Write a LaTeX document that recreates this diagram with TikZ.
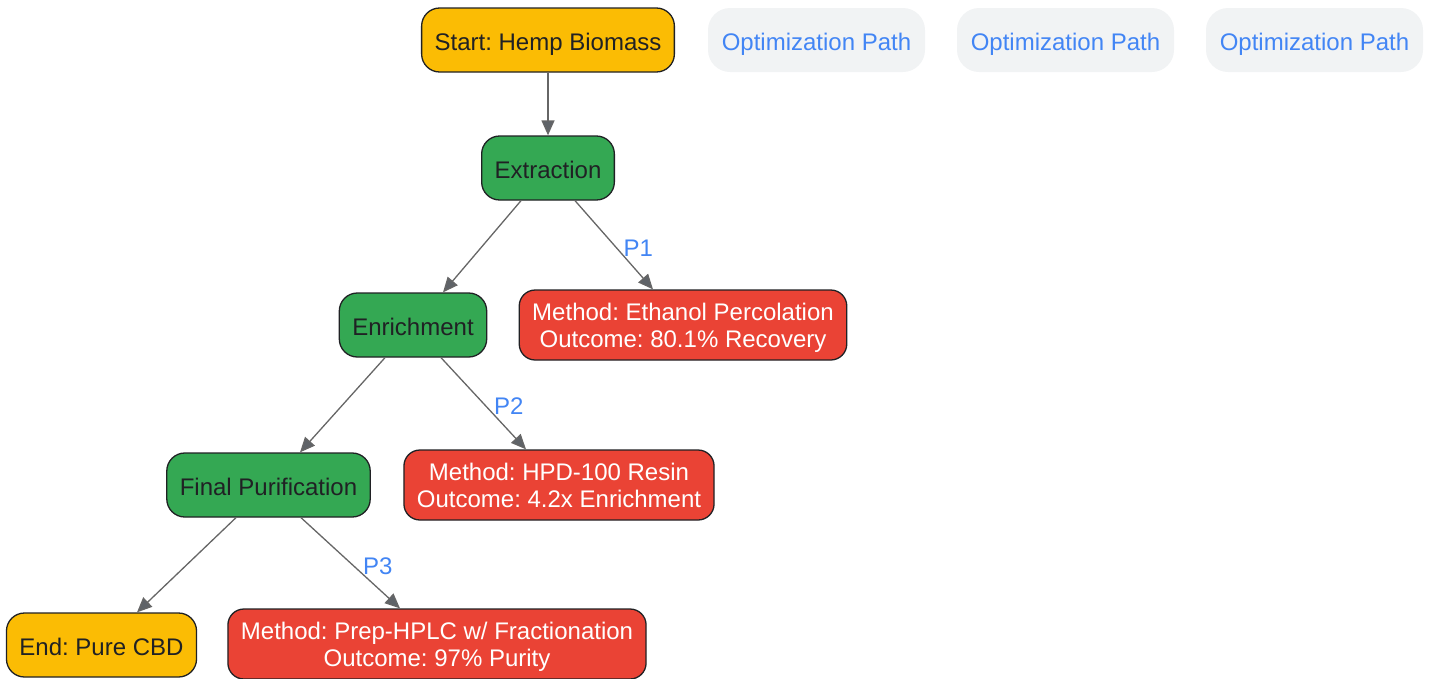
\documentclass[tikz,border=0pt]{standalone}
\usepackage{fontspec}
\setmainfont{Liberation Sans}
\usepackage{xcolor}
\usetikzlibrary{shapes.geometric, arrows.meta, positioning}

\definecolor{hempyellow}{HTML}{FBBC04}
\definecolor{stepgreen}{HTML}{34A853}
\definecolor{methodred}{HTML}{EA4335}
\definecolor{pathgray}{HTML}{F1F3F4}
\definecolor{pathblue}{HTML}{4285F4}
\definecolor{inkdark}{HTML}{202124}
\definecolor{linegray}{HTML}{666666}
\definecolor{tipgray}{HTML}{5F6368}

\frenchspacing
\begin{document}
\begin{tikzpicture}[
    x=1pt, y=1pt,
    every node/.style={font=\fontsize{24}{27}\selectfont},
    box/.style={rectangle, draw=inkdark, line width=1.3pt, rounded corners=18pt, inner xsep=13pt, inner ysep=0pt, minimum height=64pt, align=center, text height=20pt, text depth=0pt},
    terminal/.style={box, fill=hempyellow, text=inkdark},
    stage/.style={box, fill=stepgreen, text=inkdark},
    method/.style={box, fill=methodred, text=white, minimum height=70pt, rounded corners=16pt, text height=45.5pt},
    pathtag/.style={rectangle, fill=pathgray, text=pathblue, rounded corners=22pt, minimum width=217pt, minimum height=64pt, inner ysep=0pt, text height=20pt, text depth=0pt},
    plabel/.style={text=pathblue, inner sep=0pt, yshift=-3pt},
    arrow/.style={-{Triangle[length=15pt, width=13pt, fill=tipgray]}, line width=1.3pt, linegray}
]
\useasboundingbox (0,0) rectangle (1431,-678);

% Top row
\node[terminal] (start) at (548,-40) {Start: Hemp Biomass};
\node[pathtag] (path1) at (816.5,-40) {Optimization Path};
\node[pathtag] (path2) at (1065.5,-40) {Optimization Path};
\node[pathtag] (path3) at (1314.5,-40) {Optimization Path};

% Stages
\node[stage] (extraction) at (548,-168) {Extraction};
\node[stage] (enrichment) at (413,-325) {Enrichment};
\node[stage] (final) at (268.5,-485) {Final Purification};
\node[terminal] (end) at (101.5,-645) {End: Pure CBD};

% Methods
\node[method] (method1) at (683,-325) {Method: Ethanol Percolation\\Outcome: 80.1\% Recovery};
\node[method] (method2) at (559,-485) {Method: HPD-100 Resin\\Outcome: 4.2x Enrichment};
\node[method] (method3) at (437,-644) {Method: Prep-HPLC w/ Fractionation\\Outcome: 97\% Purity};

% Arrows
\draw[arrow] (start.south) -- (extraction.north);
\draw[arrow] ([xshift=-27pt]extraction.south) -- ([xshift=30pt]enrichment.north);
\draw[arrow] ([xshift=27pt]extraction.south) -- ([xshift=-30pt]method1.north) node[midway, plabel, right=9pt] {P1};
\draw[arrow] ([xshift=-28pt]enrichment.south) -- ([xshift=31.5pt]final.north);
\draw[arrow] ([xshift=28pt]enrichment.south) -- ([xshift=-33pt]method2.north) node[midway, plabel, right=10pt] {P2};
\draw[arrow] ([xshift=-32.5pt]final.south) -- ([xshift=35.5pt]end.north);
\draw[arrow] ([xshift=32.5pt]final.south) -- ([xshift=-37pt]method3.north) node[midway, plabel, right=12pt] {P3};

\end{tikzpicture}
\end{document}
